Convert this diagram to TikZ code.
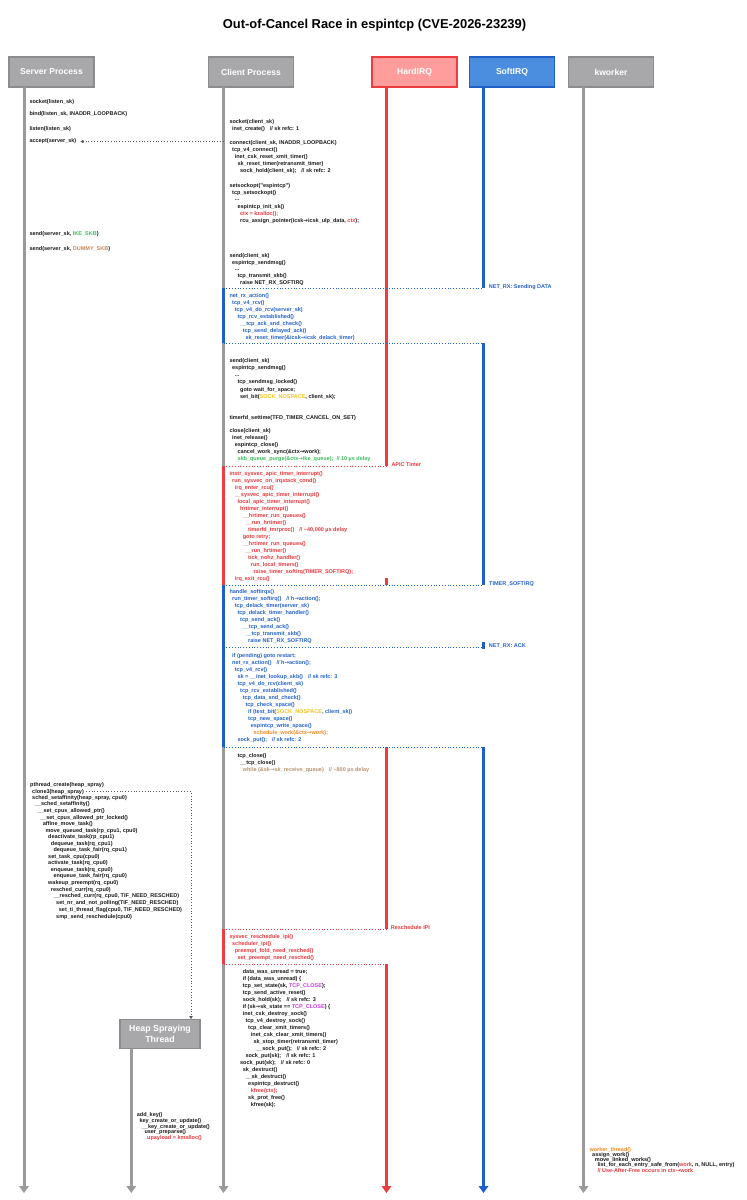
\documentclass[tikz,border=0pt]{standalone}
\usepackage{fontspec}
\setmainfont{Liberation Sans}
\newfontfamily\djv{DejaVu Sans}
\usetikzlibrary{arrows.meta}
\definecolor{gline}{HTML}{9A9A9C}
\definecolor{gfill}{HTML}{A8A8AA}
\definecolor{gdraw}{HTML}{8C8C8E}
\definecolor{rline}{HTML}{EE3B40}
\definecolor{rfill}{HTML}{FF9C9C}
\definecolor{bline}{HTML}{1E5FC8}
\definecolor{bfill}{HTML}{4B8EE0}
\definecolor{ktxt}{HTML}{1A1A1A}
\definecolor{rtxt}{HTML}{E8383D}
\definecolor{btxt}{HTML}{2462C9}
\definecolor{gtxt}{HTML}{3DBB5B}
\definecolor{ytxt}{HTML}{F2C21B}
\definecolor{otxt}{HTML}{F08A24}
\definecolor{ttxt}{HTML}{B8926E}
\definecolor{dtxt}{HTML}{C9875A}
\definecolor{mtxt}{HTML}{C63BD9}
\definecolor{dotk}{HTML}{555555}
\newcommand\arw{{\djv\bfseries →}}
\newcommand\gp{\hspace{5pt}}
\newcommand\cx[1]{229.3+#1*2.67}
\begin{document}
\catcode`\_=12
\begin{tikzpicture}[x=1pt,y=-1pt,
  head/.style={draw=gdraw, fill=gfill, line width=1.3pt, minimum width=85pt, minimum height=30pt, inner sep=0pt, text=white, font=\fontsize{8.6}{10}\selectfont\bfseries},
  txt/.style={anchor=base west, yshift=-2pt, inner sep=0pt, text=ktxt, font=\fontsize{5.5}{6}\selectfont\bfseries},
  lbl/.style={anchor=base west, yshift=-2pt, inner sep=0pt, font=\fontsize{5.5}{6}\selectfont\bfseries},
  life/.style={draw=gline, line width=3pt},
  lifer/.style={draw=rline, line width=2.5pt},
  lifeb/.style={draw=bline, line width=2.5pt},
  endarrow/.style={-{Triangle[width=9.5pt,length=7pt]}},
  dotr/.style={draw=rline, dotted, line width=0.8pt},
  dotb/.style={draw=bline, dotted, line width=0.8pt},
  dotk/.style={draw=dotk, dotted, line width=0.8pt, -{Triangle[length=3pt,width=3.5pt]}}
]
\useasboundingbox[fill=white] (0,0) rectangle (747,1200);

\node[font=\fontsize{12.9}{14}\selectfont\bfseries, text=black] (title) at (374.5,25) {Out-of-Cancel Race in espintcp (CVE-2026-23239)};

% headers
\node[head] (srv) at (51.5,72) {Server Process};
\node[head] (cli) at (251,72) {Client Process};
\node[head, fill=rfill, draw=rline] (hirq) at (414.5,72) {HardIRQ};
\node[head, fill=bfill, draw=bline] (sirq) at (512,72) {SoftIRQ};
\node[head] (kw) at (611,72) {kworker};
\node[head, minimum width=80pt, minimum height=29pt, align=center, font=\fontsize{8.8}{10.4}\selectfont\bfseries] (heap) at (160,1033.7) {Heap Spraying\\Thread};

% lifeline coordinates
\coordinate (sT) at (24,87);   \coordinate (sB) at (24,1193);
\coordinate (tT) at (131.3,1048.5); \coordinate (tB) at (131.3,1193);
\coordinate (kT) at (583.5,87); \coordinate (kB) at (583.5,1193);
\coordinate (cT) at (223.5,87);
\coordinate (c288) at (223.5,288.3);
\coordinate (c343) at (223.5,343.3);
\coordinate (c466) at (223.5,466);
\coordinate (c585) at (223.5,585);
\coordinate (c647) at (223.5,647.3);
\coordinate (c747) at (223.5,747);
\coordinate (c929) at (223.5,929);
\coordinate (c964) at (223.5,964);
\coordinate (cB) at (223.5,1193);
\coordinate (cAcc) at (223.5,141.5);
\coordinate (hT) at (386.5,87);
\coordinate (h466) at (386.5,466);
\coordinate (h578) at (386.5,578);
\coordinate (h585) at (386.5,585);
\coordinate (h747) at (386.5,747);
\coordinate (h929) at (386.5,929);
\coordinate (h964) at (386.5,964);
\coordinate (hB) at (386.5,1193);
\coordinate (bT) at (483.5,87);
\coordinate (b288) at (483.5,288.3);
\coordinate (b343) at (483.5,343.3);
\coordinate (b585) at (483.5,585);
\coordinate (b642) at (483.5,642);
\coordinate (b647) at (483.5,647.3);
\coordinate (b648) at (483.5,648.5);
\coordinate (b747) at (483.5,747);
\coordinate (bB) at (483.5,1193);
\coordinate (hsIn) at (191,1019);

% lifelines
\draw[life, endarrow] (sT) -- (sB);
\draw[life, endarrow] (tT) -- (tB);
\draw[life, endarrow] (kT) -- (kB);
\draw[life] (cT) -- (c288);
\draw[lifeb] (c288) -- (c343);
\draw[life] (c343) -- (c466);
\draw[lifer] (c466) -- (c585);
\draw[lifeb] (c585) -- (c747);
\draw[life] (c747) -- (c929);
\draw[lifer] (c929) -- (c964);
\draw[life, endarrow] (c964) -- (cB);
\draw[lifer] (hT) -- (h466);
\draw[lifer] (h578) -- (h585);
\draw[lifer] (h747) -- (h929);
\draw[lifer, endarrow] (h964) -- (hB);
\draw[lifeb] (bT) -- (b288);
\draw[lifeb] (b343) -- (b585);
\draw[lifeb] (b642) -- (b648);
\draw[lifeb, endarrow] (b747) -- (bB);

% context switches
\draw[dotb] (c288) -- (b288);
\draw[dotb] (c343) -- (b343);
\draw[dotr] (c466) -- (h466);
\draw[dotb] (c585) -- (b585);
\draw[dotb] (c647) -- (b647);
\draw[dotb] (c747) -- (b747);
\draw[dotr] (c929) -- (h929);
\draw[dotr] (c964) -- (h964);

\node[lbl, text=btxt] (lNetA) at (488.7,286.3) {NET_RX: Sending DATA};
\node[lbl, text=rtxt] (lApic) at (391.3,464) {APIC Timer};
\node[lbl, text=btxt] (lTim) at (489,583) {TIMER_SOFTIRQ};
\node[lbl, text=btxt] (lNetB) at (488.7,645.7) {NET_RX: ACK};
\node[lbl, text=rtxt] (lIpi) at (390.7,927) {Reschedule IPI};

% server process
\node[txt] (s1) at (29.3,101.3) {socket(listen_sk)};
\node[txt] (s2) at (29.3,113.7) {bind(listen_sk, INADDR_LOOPBACK)};
\node[txt] (s3) at (29.3,128) {listen(listen_sk)};
\node[txt] (s4) at (29.3,140.3) {accept(server_sk)};
\node[txt] (s5) at (29.3,233.3) {send(server_sk, \textcolor{gtxt}{IKE_SKB})};
\node[txt] (s6) at (29.3,248) {send(server_sk, \textcolor{dtxt}{DUMMY_SKB})};
\draw[dotk] (cAcc) -- ([xshift=4pt]cAcc -| s4.east);

% client process
\node[txt] (c1) at ({\cx{0}},121.3) {socket(client_sk)};
\node[txt] (c2) at ({\cx{1}},128.7) {inet_create()\gp// sk refc: 1};
\node[txt] (c3) at ({\cx{0}},142.3) {connect(client_sk, INADDR_LOOPBACK)};
\node[txt] (c4) at ({\cx{1}},149.7) {tcp_v4_connect()};
\node[txt] (c5) at ({\cx{2}},156.7) {inet_csk_reset_xmit_timer()};
\node[txt] (c6) at ({\cx{3}},163.7) {sk_reset_timer(retransmit_timer)};
\node[txt] (c7) at ({\cx{4}},170.7) {sock_hold(client_sk);\gp// sk refc: 2};
\node[txt] (c8) at ({\cx{0}},185) {setsockopt("espintcp")};
\node[txt] (c9) at ({\cx{1}},192) {tcp_setsockopt()};
\node[txt] (c10) at ({\cx{2}},198.7) {...};
\node[txt] (c11) at ({\cx{3}},206) {espintcp_init_sk()};
\node[txt, text=rtxt] (c12) at ({\cx{4}},213) {ctx = kzalloc();};
\node[txt] (c13) at ({\cx{4}},220) {rcu_assign_pointer(icsk\arw icsk_ulp_data, \textcolor{rtxt}{ctx});};
\node[txt] (c14) at ({\cx{0}},255) {send(client_sk)};
\node[txt] (c15) at ({\cx{1}},262) {espintcp_sendmsg()};
\node[txt] (c16) at ({\cx{2}},268.7) {...};
\node[txt] (c17) at ({\cx{3}},275.7) {tcp_transmit_skb()};
\node[txt] (c18) at ({\cx{4}},282.7) {raise NET_RX_SOFTIRQ};
\node[txt, text=btxt] (c19) at ({\cx{0}},295.3) {net_rx_action()};
\node[txt, text=btxt] (c20) at ({\cx{1}},302.3) {tcp_v4_rcv()};
\node[txt, text=btxt] (c21) at ({\cx{2}},309.3) {tcp_v4_do_rcv(server_sk)};
\node[txt, text=btxt] (c22) at ({\cx{3}},316.3) {tcp_rcv_established()};
\node[txt, text=btxt] (c23) at ({\cx{4}},323.3) {__tcp_ack_snd_check()};
\node[txt, text=btxt] (c24) at ({\cx{5}},330.3) {tcp_send_delayed_ack()};
\node[txt, text=btxt] (c25) at ({\cx{6}},337.3) {sk_reset_timer(\&icsk\arw icsk_delack_timer)};
\node[txt] (c26) at ({\cx{0}},360.7) {send(client_sk)};
\node[txt] (c27) at ({\cx{1}},367.7) {espintcp_sendmsg()};
\node[txt] (c28) at ({\cx{2}},374.7) {...};
\node[txt] (c29) at ({\cx{3}},381.7) {tcp_sendmsg_locked()};
\node[txt] (c30) at ({\cx{4}},389) {goto wait_for_space;};
\node[txt] (c31) at ({\cx{4}},396) {set_bit(\textcolor{ytxt}{SOCK_NOSPACE}, client_sk);};
\node[txt] (c32) at ({\cx{0}},417) {timerfd_settime(TFD_TIMER_CANCEL_ON_SET)};
\node[txt] (c33) at ({\cx{0}},430.7) {close(client_sk)};
\node[txt] (c34) at ({\cx{1}},437.7) {inet_release()};
\node[txt] (c35) at ({\cx{2}},444.7) {espintcp_close()};
\node[txt] (c36) at ({\cx{3}},451.7) {cancel_work_sync(\&ctx\arw work);};
\node[txt, text=gtxt] (c37) at ({\cx{3}},458.7) {skb_queue_purge(\&ctx\arw ike_queue);\hspace{3pt}// 10 µs delay};
\node[txt, text=rtxt] (c38) at ({\cx{0}},473.3) {instr_sysvec_apic_timer_interrupt()};
\node[txt, text=rtxt] (c39) at ({\cx{1}},480.3) {run_sysvec_on_irqstack_cond()};
\node[txt, text=rtxt] (c40) at ({\cx{2}},487.3) {irq_enter_rcu()};
\node[txt, text=rtxt] (c41) at ({\cx{2}},494.3) {__sysvec_apic_timer_interrupt()};
\node[txt, text=rtxt] (c42) at ({\cx{3}},501.3) {local_apic_timer_interrupt()};
\node[txt, text=rtxt] (c43) at ({\cx{4}},508.3) {hrtimer_interrupt()};
\node[txt, text=rtxt] (c44) at ({\cx{5}},515.3) {__hrtimer_run_queues()};
\node[txt, text=rtxt] (c45) at ({\cx{6}},522.3) {__run_hrtimer()};
\node[txt, text=rtxt] (c46) at ({\cx{7}},529.3) {timerfd_tmrproc()\gp// \textasciitilde 40,000 µs delay};
\node[txt, text=rtxt] (c47) at ({\cx{5}},536.3) {goto retry;};
\node[txt, text=rtxt] (c48) at ({\cx{5}},543.3) {__hrtimer_run_queues()};
\node[txt, text=rtxt] (c49) at ({\cx{6}},550.3) {__run_hrtimer()};
\node[txt, text=rtxt] (c50) at ({\cx{7}},557.3) {tick_nohz_handler()};
\node[txt, text=rtxt] (c51) at ({\cx{8}},564.3) {run_local_timers()};
\node[txt, text=rtxt] (c52) at ({\cx{9}},571.3) {raise_timer_softirq(TIMER_SOFTIRQ);};
\node[txt, text=rtxt] (c53) at ({\cx{2}},578.3) {irq_exit_rcu()};
\node[txt, text=btxt] (c54) at ({\cx{0}},591.7) {handle_softirqs()};
\node[txt, text=btxt] (c55) at ({\cx{1}},598.7) {run_timer_softirq()\gp// h\arw action();};
\node[txt, text=btxt] (c56) at ({\cx{2}},605.7) {tcp_delack_timer(server_sk)};
\node[txt, text=btxt] (c57) at ({\cx{3}},612.7) {tcp_delack_timer_handler()};
\node[txt, text=btxt] (c58) at ({\cx{4}},619.7) {tcp_send_ack()};
\node[txt, text=btxt] (c59) at ({\cx{5}},626.7) {__tcp_send_ack()};
\node[txt, text=btxt] (c60) at ({\cx{6}},633.7) {__tcp_transmit_skb()};
\node[txt, text=btxt] (c61) at ({\cx{7}},640.7) {raise NET_RX_SOFTIRQ};
\node[txt, text=btxt] (c62) at ({\cx{1}},655.7) {if (pending) goto restart;};
\node[txt, text=btxt] (c63) at ({\cx{1}},662.7) {net_rx_action()\gp// h\arw action();};
\node[txt, text=btxt] (c64) at ({\cx{2}},669.7) {tcp_v4_rcv()};
\node[txt, text=btxt] (c65) at ({\cx{3}},676.7) {sk = __inet_lookup_skb()\gp// sk refc: 3};
\node[txt, text=btxt] (c66) at ({\cx{3}},683.7) {tcp_v4_do_rcv(client_sk)};
\node[txt, text=btxt] (c67) at ({\cx{4}},690.7) {tcp_rcv_established()};
\node[txt, text=btxt] (c68) at ({\cx{5}},697.7) {tcp_data_snd_check()};
\node[txt, text=btxt] (c69) at ({\cx{6}},704.7) {tcp_check_space()};
\node[txt, text=btxt] (c70) at ({\cx{7}},711.7) {if (test_bit(\textcolor{ytxt}{SOCK_NOSPACE}, client_sk))};
\node[txt, text=btxt] (c71) at ({\cx{7}},718.7) {tcp_new_space()};
\node[txt, text=btxt] (c72) at ({\cx{8}},725.7) {espintcp_write_space()};
\node[txt, text=otxt] (c73) at ({\cx{9}},732.7) {schedule_work(\&ctx\arw work);};
\node[txt, text=btxt] (c74) at ({\cx{3}},739.7) {sock_put();\gp// sk refc: 2};
\node[txt] (c75) at ({\cx{3}},755) {tcp_close()};
\node[txt] (c76) at ({\cx{4}},762) {__tcp_close()};
\node[txt, text=ttxt] (c77) at ({\cx{5}},769.3) {while (\&sk\arw sk_receive_queue)\gp// \textasciitilde 800 µs delay};
\node[txt, text=rtxt] (c78) at ({\cx{0}},936.3) {sysvec_reschedule_ipi()};
\node[txt, text=rtxt] (c79) at ({\cx{1}},943) {scheduler_ipi()};
\node[txt, text=rtxt] (c80) at ({\cx{2}},950.3) {preempt_fold_need_resched()};
\node[txt, text=rtxt] (c81) at ({\cx{3}},957.3) {set_preempt_need_resched()};
\node[txt] (c82) at ({\cx{5}},971.7) {data_was_unread = true;};
\node[txt] (c83) at ({\cx{5}},978.7) {if (data_was_unread) \{};
\node[txt] (c84) at ({\cx{5}},985.7) {tcp_set_state(sk, \textcolor{mtxt}{TCP_CLOSE});};
\node[txt] (c85) at ({\cx{5}},992.7) {tcp_send_active_reset()};
\node[txt] (c86) at ({\cx{5}},999.7) {sock_hold(sk);\gp// sk refc: 3};
\node[txt] (c87) at ({\cx{5}},1006.7) {if (sk\arw sk_state == \textcolor{mtxt}{TCP_CLOSE}) \{};
\node[txt] (c88) at ({\cx{5}},1013.7) {inet_csk_destroy_sock()};
\node[txt] (c89) at ({\cx{6}},1020.7) {tcp_v4_destroy_sock()};
\node[txt] (c90) at ({\cx{7}},1027.7) {tcp_clear_xmit_timers()};
\node[txt] (c91) at ({\cx{8}},1034.7) {inet_csk_clear_xmit_timers()};
\node[txt] (c92) at ({\cx{9}},1041.7) {sk_stop_timer(retransmit_timer)};
\node[txt] (c93) at ({\cx{10}},1048.7) {__sock_put();\gp// sk refc: 2};
\node[txt] (c94) at ({\cx{6}},1055.7) {sock_put(sk);\gp// sk refc: 1};
\node[txt] (c95) at ({\cx{4}},1062.7) {sock_put(sk);\gp// sk refc: 0};
\node[txt] (c96) at ({\cx{5}},1069.7) {sk_destruct()};
\node[txt] (c97) at ({\cx{6}},1076.7) {__sk_destruct()};
\node[txt] (c98) at ({\cx{7}},1083.7) {espintcp_destruct()};
\node[txt, text=rtxt] (c99) at ({\cx{8}},1090.7) {kfree(ctx);};
\node[txt] (c100) at ({\cx{7}},1097.7) {sk_prot_free()};
\node[txt] (c101) at ({\cx{8}},1104.7) {kfree(sk);};

% heap spray setup on server side
\node[txt] (h1) at (30,784.7) {pthread_create(heap_spray)};
\node[txt] (h2) at (32,791) {clone3(heap_spray)};
\node[txt] (h3) at (32,797.3) {sched_setaffinity(heap_spray, cpu0)};
\node[txt] (h4) at (34.7,803.7) {__sched_setaffinity()};
\node[txt] (h5) at (37.3,810.3) {__set_cpus_allowed_ptr()};
\node[txt] (h6) at (40,817) {__set_cpus_allowed_ptr_locked()};
\node[txt] (h7) at (42.7,823.3) {affine_move_task()};
\node[txt] (h8) at (45.3,830) {move_queued_task(rp_cpu1, cpu0)};
\node[txt] (h9) at (48,836.7) {deactivate_task(rp_cpu1)};
\node[txt] (h10) at (50.7,843) {dequeue_task(rq_cpu1)};
\node[txt] (h11) at (53.3,849.7) {dequeue_task_fair(rq_cpu1)};
\node[txt] (h12) at (48,856.3) {set_task_cpu(cpu0)};
\node[txt] (h13) at (48,862.7) {activate_task(rq_cpu0)};
\node[txt] (h14) at (50.7,869.3) {enqueue_task(rq_cpu0)};
\node[txt] (h15) at (53.3,875.7) {enqueue_task_fair(rq_cpu0)};
\node[txt] (h16) at (48,882.3) {wakeup_preempt(rq_cpu0)};
\node[txt] (h17) at (50.7,889) {resched_curr(rq_cpu0)};
\node[txt] (h18) at (53.3,895.7) {__resched_curr(rq_cpu0, TIF_NEED_RESCHED)};
\node[txt] (h19) at (56,902.3) {set_nr_and_not_polling(TIF_NEED_RESCHED)};
\node[txt] (h20) at (58.7,909.3) {set_ti_thread_flag(cpu0, TIF_NEED_RESCHED)};
\node[txt] (h21) at (56,916.3) {smp_send_reschedule(cpu0)};
\draw[dotk] ([xshift=2pt]h2.east) -| (hsIn);

% heap spraying thread
\node[txt] (k1) at (136.7,1114.3) {add_key()};
\node[txt] (k2) at (139.3,1120.3) {key_create_or_update()};
\node[txt] (k3) at (141.7,1126) {__key_create_or_update()};
\node[txt] (k4) at (144.3,1131.7) {user_preparse()};
\node[txt, text=rtxt] (k5) at (147,1137.7) {upayload = kmalloc()};

% kworker
\node[txt, text=otxt] (w1) at (589.3,1149.3) {worker_thread()};
\node[txt] (w2) at (592,1154.3) {assign_work()};
\node[txt] (w3) at (594.7,1159.7) {move_linked_works()};
\node[txt] (w4) at (597.3,1164.7) {list_for_each_entry_safe_from(\textcolor{rtxt}{work}, n, NULL, entry)};
\node[txt, text=rtxt] (w5) at (597.3,1170) {// Use-After-Free occurs in ctx\arw work};
\end{tikzpicture}
\end{document}
